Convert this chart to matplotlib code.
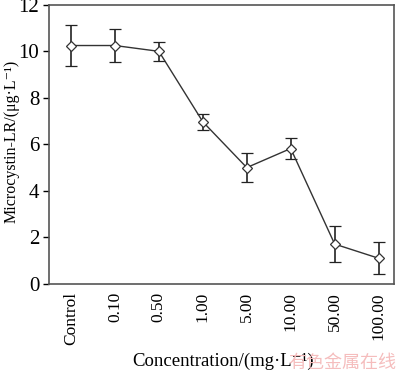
import numpy as np
import matplotlib.pyplot as plt

plt.rcParams['font.family'] = ['Liberation Serif', 'DejaVu Serif']

categories = ["Control", "0.10", "0.50", "1.00", "5.00", "10.00", "50.00", "100.00"]
mc_lr = [10.25, 10.25, 10.0, 6.97, 5.0, 5.82, 1.71, 1.1]
mc_err = [0.9, 0.7, 0.4, 0.35, 0.62, 0.47, 0.78, 0.69]

fig = plt.figure(figsize=(4.0, 3.72), dpi=100)
ax = fig.add_axes([0.1225, 0.237, 0.8625, 0.75])

x = np.arange(len(categories))
ax.errorbar(x, mc_lr, yerr=mc_err, color="#333333", lw=1.0,
            marker="D", ms=5.5, mfc="white", mec="#333333", mew=0.9,
            capsize=4.5, capthick=1.2, elinewidth=1.2, ecolor="#222222")

ax.set_xlim(-0.5, 7.35)
ax.set_ylim(0, 12)
ax.set_yticks(range(0, 13, 2))
ax.set_xticks(x)
ax.set_xticklabels(categories, rotation=90, fontsize=12.5)
ax.tick_params(axis="x", length=0, pad=6)
ax.tick_params(axis="y", labelsize=15, length=4, width=1, pad=3)
for s in ax.spines.values():
    s.set_color("#555555")
    s.set_linewidth(1.2)

ax.set_ylabel("Microcystin-LR/(μg·L⁻¹)", fontsize=11.5)
ax.yaxis.set_label_coords(-0.085, 0.509)
ax.set_xlabel("Concentration/(mg·L⁻¹)", fontsize=13.5)
ax.xaxis.set_label_coords(0.505, -0.245)

fig.text(0.99, 0.0, "有色金属在线", fontsize=13, color="#f5bdbd",
         ha="right", va="bottom", family=["Noto Sans CJK SC", "DejaVu Sans"])

fig.savefig("out.png", dpi=100)
